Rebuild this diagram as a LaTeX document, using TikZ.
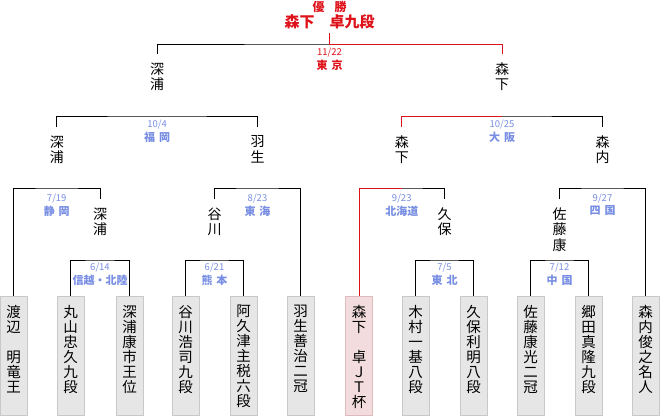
\documentclass[tikz,border=0pt]{standalone}
\usepackage{fontspec}
\setmainfont{Noto Sans CJK JP}
\definecolor{jred}{RGB}{222,18,26}
\definecolor{jblue}{RGB}{120,142,226}
\definecolor{boxfill}{RGB}{230,230,230}
\definecolor{boxline}{RGB}{200,200,200}
\definecolor{pinkfill}{RGB}{242,220,221}
\definecolor{pinkline}{RGB}{222,186,188}
\begin{document}
\begin{tikzpicture}[x=1pt,y=-1pt,
  conn/.style={draw=black,line width=1pt},
  winline/.style={draw=jred,line width=1pt},
  nm/.style={anchor=north,inner xsep=0pt,inner ysep=8.5pt,align=center,font=\fontsize{14}{15.5}\selectfont},
  player/.style={anchor=north,draw=boxline,fill=boxfill,minimum width=27pt,minimum height=119pt,inner sep=0pt,line width=1pt},
  winbox/.style={player,draw=pinkline,fill=pinkfill},
  ptext/.style={anchor=north,inner sep=0pt,align=center,font=\fontsize{14.5}{15}\selectfont},
  datelbl/.style={text=jblue,font=\fontsize{9.5}{9.5}\selectfont,inner sep=0pt},
  placelbl/.style={text=jblue,font=\fontsize{11}{11}\selectfont\bfseries,inner sep=0pt},
]
\useasboundingbox (0,0) rectangle (660,415);

% ---- player boxes ----
\node[player] (b1) at (13.5,295.5) {};
\node[player] (b2) at (70.5,295.5) {};
\node[player] (b3) at (129.5,295.5) {};
\node[player] (b4) at (185.5,295.5) {};
\node[player] (b5) at (243.5,295.5) {};
\node[player] (b6) at (300.5,295.5) {};
\node[winbox] (b7) at (359,295.5) {};
\node[player] (b8) at (415.5,295.5) {};
\node[player] (b9) at (473.5,295.5) {};
\node[player] (b10) at (530.5,295.5) {};
\node[player] (b11) at (588.5,295.5) {};
\node[player] (b12) at (645.5,295.5) {};

\node[ptext] (t1) at (13.5,305) {渡\\辺\\　\\明\\竜\\王};
\node[ptext] (t2) at (70.5,305) {丸\\山\\忠\\久\\九\\段};
\node[ptext] (t3) at (129.5,305) {深\\浦\\康\\市\\王\\位};
\node[ptext] (t4) at (185.5,305) {谷\\川\\浩\\司\\九\\段};
\node[ptext] (t5) at (243.5,305) {阿\\久\\津\\主\\税\\六\\段};
\node[ptext] (t6) at (300.5,305) {羽\\生\\善\\治\\二\\冠};
\node[ptext] (t7) at (359,305) {森\\下\\　\\卓\\Ｊ\\Ｔ\\杯};
\node[ptext] (t8) at (415.5,305) {木\\村\\一\\基\\八\\段};
\node[ptext] (t9) at (473.5,305) {久\\保\\利\\明\\八\\段};
\node[ptext] (t10) at (530.5,305) {佐\\藤\\康\\光\\二\\冠};
\node[ptext] (t11) at (588.5,305) {郷\\田\\真\\隆\\九\\段};
\node[ptext] (t12) at (645.5,305) {森\\内\\俊\\之\\名\\人};

% ---- round names ----
\node[nm] (r2a) at (100,199) {深\\浦};
\node[nm] (r2b) at (214.5,199) {谷\\川};
\node[nm] (r2c) at (444.5,199) {久\\保};
\node[nm] (r2d) at (559.5,199) {佐\\藤\\康};

\node[nm] (r3a) at (56.75,127) {深\\浦};
\node[nm] (r3b) at (257.5,127) {羽\\生};
\node[nm] (r3c) at (401.75,127) {森\\下};
\node[nm] (r3d) at (602.5,127) {森\\内};

\node[nm] (f1) at (157.1,54) {深\\浦};
\node[nm] (f2) at (502.1,54) {森\\下};

% ---- junctions ----
\coordinate (k1) at (100,260);
\coordinate (k2) at (214.5,260);
\coordinate (k3) at (444.5,260);
\coordinate (k4) at (559.5,260);
\coordinate (j1) at (56.75,188);
\coordinate (j2) at (257.5,188);
\coordinate (j3) at (401.75,188);
\coordinate (j4) at (602.5,188);
\coordinate (m1) at (157.1,116);
\coordinate (m2) at (502.1,116);
\coordinate (jf) at (329.6,44);
\coordinate (top) at (329.6,33);

% ---- brackets ----
\draw[conn] (b2.north) |- (k1) -| (b3.north);
\draw[conn] (b4.north) |- (k2) -| (b5.north);
\draw[conn] (b8.north) |- (k3) -| (b9.north);
\draw[conn] (b10.north) |- (k4) -| (b11.north);
\draw[conn] (b1.north) |- (j1) -| (r2a.north);
\draw[conn] (r2b.north) |- (j2) -| (b6.north);
\draw[conn] (b7.north) |- (j3) -| (r2c.north);
\draw[conn] (r2d.north) |- (j4) -| (b12.north);
\draw[conn] (r3a.north) |- (m1) -| (r3b.north);
\draw[conn] (r3c.north) |- (m2) -| (r3d.north);
\draw[conn] (f1.north) |- (jf) -| (f2.north);

% ---- winner path ----
\draw[winline] (b7.north) |- (j3);
\draw[winline] (r3c.north) |- (m2);
\draw[winline] (top) -- (jf) -| (f2.north);

% ---- labels ----
\node[datelbl] (d1) at (100,267.5) {6/14};
\node[placelbl] (p1) at (100,280.5) {信越・北陸};
\node[datelbl] (d2) at (214.5,267.5) {6/21};
\node[placelbl] (p2) at (214.5,280.5) {熊\hspace{4pt}本};
\node[datelbl] (d3) at (444.5,267.5) {7/5};
\node[placelbl] (p3) at (444.5,280.5) {東\hspace{4pt}北};
\node[datelbl] (d4) at (559.5,267.5) {7/12};
\node[placelbl] (p4) at (559.5,280.5) {中\hspace{4pt}国};

\node[datelbl] (d5) at (56.75,199) {7/19};
\node[placelbl] (p5) at (56.75,211) {静\hspace{4pt}岡};
\node[datelbl] (d6) at (257.5,199) {8/23};
\node[placelbl] (p6) at (257.5,211) {東\hspace{4pt}海};
\node[datelbl] (d7) at (401.75,199) {9/23};
\node[placelbl] (p7) at (401.75,211) {北海道};
\node[datelbl] (d8) at (602.5,199) {9/27};
\node[placelbl] (p8) at (602.5,211) {四\hspace{4pt}国};

\node[datelbl] (d9) at (157.1,125) {10/4};
\node[placelbl] (p9) at (157.1,137.5) {福\hspace{4pt}岡};
\node[datelbl] (d10) at (502.1,125) {10/25};
\node[placelbl] (p10) at (502.1,137.5) {大\hspace{4pt}阪};

\node[datelbl,text=jred] (d11) at (329.6,53) {11/22};
\node[placelbl,text=jred] (p11) at (329.6,65) {東\hspace{4pt}京};

% ---- champion ----
\node[text=jred,font=\fontsize{12}{12}\selectfont\bfseries,inner sep=0pt] (title) at (329.6,6.5) {優\hspace{10pt}勝};
\node[text=jred,font=\fontsize{15}{15}\selectfont\bfseries,inner sep=0pt] (champ) at (329.6,22) {森下　卓九段};
\end{tikzpicture}
\end{document}
